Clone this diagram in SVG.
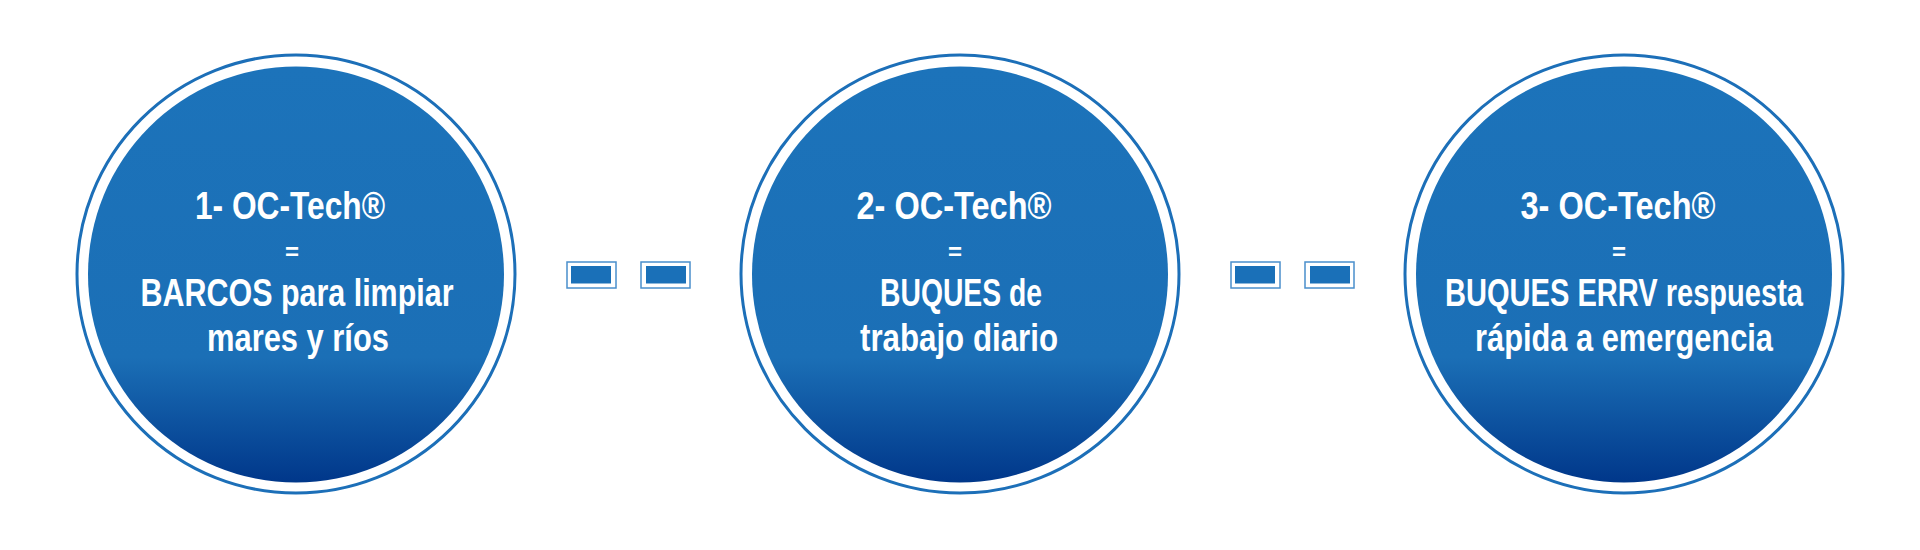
<svg xmlns="http://www.w3.org/2000/svg" width="1920" height="550" viewBox="0 0 1920 550">
<style>
.ring{fill:none;stroke:#1c6fb8;stroke-width:3}
.disc{fill:url(#g)}
.t{font-family:"Liberation Sans Narrow","Liberation Sans",Arial,sans-serif;font-weight:bold;fill:#ffffff;text-anchor:middle}
.big{font-size:38px}
.eq{font-size:24px}
.box{fill:#ffffff;stroke:#4a8fcc;stroke-width:1.5}
.boxin{fill:#1a70b8}
</style>
<defs>
<linearGradient id="g" x1="0" y1="0" x2="0" y2="1">
<stop offset="0" stop-color="#1c73ba"/>
<stop offset="0.7" stop-color="#1b6fb6"/>
<stop offset="1" stop-color="#00378a"/>
</linearGradient>
</defs>
<rect width="1920" height="550" fill="#ffffff"/>
<g id="node1">
<circle class="ring" cx="296" cy="274" r="219"/>
<circle class="disc" cx="296" cy="274.5" r="208"/>
<text class="t big" x="290" y="219" textLength="190" lengthAdjust="spacingAndGlyphs">1- OC-Tech®</text>
<text class="t eq" x="292" y="260">=</text>
<text class="t big" x="297" y="306" textLength="313" lengthAdjust="spacingAndGlyphs">BARCOS para limpiar</text>
<text class="t big" x="298" y="351" textLength="182" lengthAdjust="spacingAndGlyphs">mares y ríos</text>
</g>
<g id="node2">
<circle class="ring" cx="960" cy="274" r="219"/>
<circle class="disc" cx="960" cy="274.5" r="208"/>
<text class="t big" x="954" y="219" textLength="195" lengthAdjust="spacingAndGlyphs">2- OC-Tech®</text>
<text class="t eq" x="955" y="260">=</text>
<text class="t big" x="961" y="306" textLength="162" lengthAdjust="spacingAndGlyphs">BUQUES de</text>
<text class="t big" x="959" y="351" textLength="198" lengthAdjust="spacingAndGlyphs">trabajo diario</text>
</g>
<g id="node3">
<circle class="ring" cx="1624" cy="274" r="219"/>
<circle class="disc" cx="1624" cy="274.5" r="208"/>
<text class="t big" x="1618" y="219" textLength="195" lengthAdjust="spacingAndGlyphs">3- OC-Tech®</text>
<text class="t eq" x="1619" y="260">=</text>
<text class="t big" x="1624" y="306" textLength="358" lengthAdjust="spacingAndGlyphs">BUQUES ERRV respuesta</text>
<text class="t big" x="1624" y="351" textLength="298" lengthAdjust="spacingAndGlyphs">rápida a emergencia</text>
</g>
<g id="connectors">
<rect class="box" x="567" y="262" width="49" height="26"/>
<rect class="boxin" x="571" y="266" width="40" height="17.5"/>
<rect class="box" x="641" y="262" width="49" height="26"/>
<rect class="boxin" x="646" y="266" width="40" height="17.5"/>
<rect class="box" x="1231" y="262" width="49" height="26"/>
<rect class="boxin" x="1235" y="266" width="40" height="17.5"/>
<rect class="box" x="1305" y="262" width="49" height="26"/>
<rect class="boxin" x="1310" y="266" width="40" height="17.5"/>
</g>
</svg>
